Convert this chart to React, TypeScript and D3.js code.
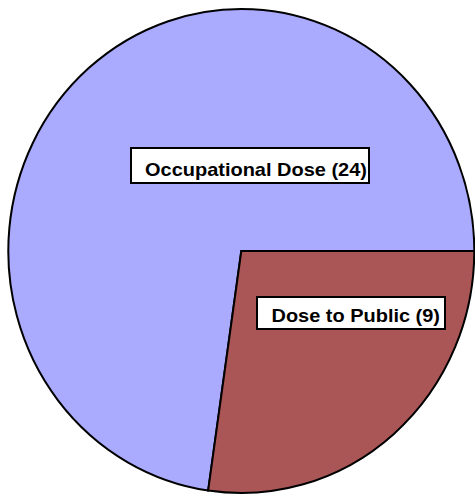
import * as d3 from "d3";
import { useEffect, useRef } from "react";

const categories = ["Occupational Dose", "Dose to Public"];
const values = [24, 9];
const colours = ["#aaaaff", "#aa5656"];

export default function App() {
  const ref = useRef<SVGSVGElement>(null);

  useEffect(() => {
    const svg = d3.select(ref.current);
    svg.selectAll("*").remove();

    const cx = 241.3;
    const cy = 251;
    const ry = 242;
    const rx = 233;

    const data = categories.map((name, i) => ({ name, value: values[i], colour: colours[i] }));

    // anticlockwise from 3 o'clock so the smaller slice ends up lower right
    const pie = d3
      .pie<{ name: string; value: number; colour: string }>()
      .value((d) => d.value)
      .sort(null)
      .startAngle(Math.PI / 2)
      .endAngle(Math.PI / 2 - 2 * Math.PI);

    const arc = d3
      .arc<d3.PieArcDatum<{ name: string; value: number; colour: string }>>()
      .innerRadius(0)
      .outerRadius(ry);

    const g = svg
      .append("g")
      .attr("transform", `translate(${cx},${cy}) scale(${rx / ry},1)`);

    g.selectAll("path")
      .data(pie(data))
      .enter()
      .append("path")
      .attr("d", arc)
      .attr("fill", (d) => d.data.colour)
      .attr("stroke", "#000")
      .attr("stroke-width", 2)
      .attr("stroke-linejoin", "miter")
      .attr("vector-effect", "non-scaling-stroke");

    // label boxes, placed like the original spreadsheet labels
    const labelBoxes = [
      { x: 131, y: 148, w: 238, h: 35, tx: 145, tw: 222, by: 176 },
      { x: 257, y: 297, w: 188, h: 32, tx: 271.5, tw: 168.5, by: 322 },
    ];

    data.forEach((d, i) => {
      const b = labelBoxes[i];
      svg
        .append("rect")
        .attr("x", b.x)
        .attr("y", b.y)
        .attr("width", b.w)
        .attr("height", b.h)
        .attr("fill", "#fff")
        .attr("stroke", "#000")
        .attr("stroke-width", 2);
      svg
        .append("text")
        .attr("x", b.tx)
        .attr("y", b.by)
        .attr("font-family", "'Liberation Sans', Arial, sans-serif")
        .attr("font-weight", "bold")
        .attr("font-size", 19)
        .attr("textLength", b.tw)
        .attr("lengthAdjust", "spacingAndGlyphs")
        .attr("fill", "#000")
        .text(`${d.name} (${d.value})`);
    });
  }, []);

  return (
    <svg
      ref={ref}
      width={475}
      height={496}
      style={{ position: "absolute", left: 0, top: 0, background: "#fff" }}
    />
  );
}
